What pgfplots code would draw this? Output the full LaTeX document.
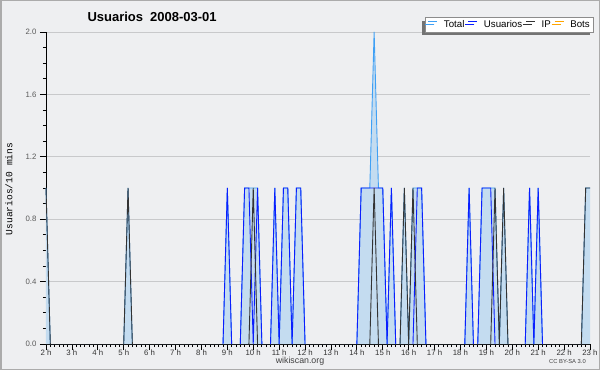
\documentclass[border=0pt]{standalone}
\usepackage{fontspec}
\setmainfont{Liberation Sans}
\newfontfamily\monofont{Liberation Mono}
\usepackage{pgfplots}
\usepackage{pgfplotstable}
\pgfplotsset{compat=1.18}
\usetikzlibrary{shadows}
\definecolor{bg}{HTML}{EEEFF1}
\definecolor{framec}{HTML}{ABABAB}
\definecolor{gridc}{HTML}{C8C9CB}
\definecolor{totalc}{HTML}{3FA0F5}
\definecolor{usrc}{HTML}{0A1EFF}
\definecolor{ipc}{HTML}{333333}
\definecolor{botc}{HTML}{FFA500}
\definecolor{fillc}{HTML}{C4DCF0}

% x = 10-minute bins (hour*6): 12 = 2 h, 138 = 23 h
\pgfplotstableread{
x y
12 1
13 0
30 0
31 1
32 0
53 0
54 1
55 0
57 0
58 1
59 1
60 1
61 1
62 0
64 0
65 1
66 0
67 1
68 1
69 0
70 1
71 1
72 0
84 0
85 1
86 1
87 1
88 2
89 1
90 1
91 0
92 1
93 0
94 0
95 1
96 0
97 1
98 1
99 1
100 0
109 0
110 1
111 0
112 0
113 1
114 1
115 1
116 1
117 0
118 1
119 0
123 0
124 1
125 0
126 1
127 0
136 0
137 1
138 1
}\totalfill

\pgfplotstableread{
x y
12 1
13 0
nan nan
30 0
31 1
32 0
nan nan
53 0
54 1
55 0
nan nan
57 0
58 1
59 1
60 1
61 1
62 0
nan nan
64 0
65 1
66 0
67 1
68 1
69 0
70 1
71 1
72 0
nan nan
84 0
85 1
86 1
87 1
88 2
89 1
90 1
91 0
92 1
93 0
nan nan
94 0
95 1
96 0
97 1
98 1
99 1
100 0
nan nan
109 0
110 1
111 0
nan nan
112 0
113 1
114 1
115 1
116 1
117 0
118 1
119 0
nan nan
123 0
124 1
125 0
126 1
127 0
nan nan
136 0
137 1
138 1
}\totalline

\pgfplotstableread{
x y
53 0
54 1
55 0
nan nan
57 0
58 1
59 1
60 0
61 1
62 0
nan nan
64 0
65 1
66 0
67 1
68 1
69 0
70 1
71 1
72 0
nan nan
84 0
85 1
86 1
87 1
88 1
89 1
90 1
91 0
92 1
93 0
nan nan
97 0
98 1
99 1
100 0
nan nan
109 0
110 1
111 0
nan nan
112 0
113 1
114 1
115 1
116 0
nan nan
123 0
124 1
125 0
126 1
127 0
}\usuarios

\pgfplotstableread{
x y
12 1
13 0
nan nan
30 0
31 1
32 0
nan nan
59 0
60 1
61 0
nan nan
87 0
88 1
89 0
nan nan
94 0
95 1
96 0
97 1
98 0
nan nan
115 0
116 1
117 0
118 1
119 0
nan nan
136 0
137 1
138 1
}\ip

\begin{document}
\begin{tikzpicture}
\useasboundingbox (0pt,0pt) rectangle (600pt,370pt);
\fill[bg] (0pt,0pt) rectangle (600pt,370pt);
\draw[framec, line width=1.5pt] (0.75pt,0.75pt) rectangle (599.25pt,369.25pt);
\begin{axis}[
  at={(46pt,26pt)}, anchor=south west,
  scale only axis, width=544pt, height=312pt,
  xmin=12, xmax=138, ymin=0, ymax=2,
  clip=false,
  axis x line*=bottom, axis y line*=left,
  axis line style={black, line width=0.9pt, -},
  xtick={12,18,...,138},
  xticklabels={2 h,3 h,4 h,5 h,6 h,7 h,8 h,9 h,10 h,11 h,12 h,13 h,14 h,15 h,16 h,17 h,18 h,19 h,20 h,21 h,22 h,23 h},
  minor x tick num=5,
  ytick={0,0.4,0.8,1.2,1.6,2.0},
  yticklabels={0.0,0.4,0.8,1.2,1.6,2.0},
  minor y tick num=3,
  ymajorgrids, grid style={gridc, line width=0.8pt},
  tick align=outside,
  major tick length=6pt, minor tick length=3pt,
  tick style={black, line width=0.8pt},
  xticklabel style={font=\fontsize{7.8}{9}\selectfont, text=black!80, yshift=4pt},
  yticklabel style={font=\fontsize{7.8}{9}\selectfont, text=black!65},
  legend columns=4,
  legend image code/.code={\draw[#1, line width=1pt] (0pt,3.3pt) -- (9pt,3.3pt);},
  legend style={at={(1.0055,1.048)}, anchor=north east,
    draw=black!45, fill=white, font=\fontsize{9.7}{11}\selectfont,
    inner xsep=3pt, inner ysep=1.5pt,
    nodes={inner xsep=0pt, inner ysep=1.5pt},
    /tikz/every odd column/.append style={column sep=6pt},
    /tikz/every even column/.append style={column sep=3.5pt},
    drop shadow={shadow xshift=-3pt, shadow yshift=-3.5pt, fill=black!55, opacity=1}},
]
\addplot[fill=fillc, draw=none, forget plot] table[x=x,y=y] {\totalfill} \closedcycle;
\addplot[totalc, line width=0.9pt, unbounded coords=jump] table[x=x,y=y] {\totalline};
\addlegendentry{Total}
\addplot[usrc, line width=0.9pt, unbounded coords=jump] table[x=x,y=y] {\usuarios};
\addlegendentry{Usuarios}
\addplot[ipc, line width=0.9pt, unbounded coords=jump] table[x=x,y=y] {\ip};
\addlegendentry{IP}
\addlegendimage{botc}
\addlegendentry{Bots}
\end{axis}
\node[anchor=west, font=\fontsize{13}{15}\selectfont\bfseries] at (84pt,353.5pt) {Usuarios\hspace{7pt}2008-03-01};
\node[rotate=90, font=\monofont\fontsize{9.6}{11}\selectfont] at (9pt,181pt) {Usuarios/10 mins};
\node[font=\fontsize{8.8}{10}\selectfont, text=black!75] at (300pt,9pt) {wikiscan.org};
\node[font=\fontsize{5.8}{7}\selectfont, text=black!75] at (567.5pt,8pt) {CC BY-SA 3.0};
\end{tikzpicture}
\end{document}
